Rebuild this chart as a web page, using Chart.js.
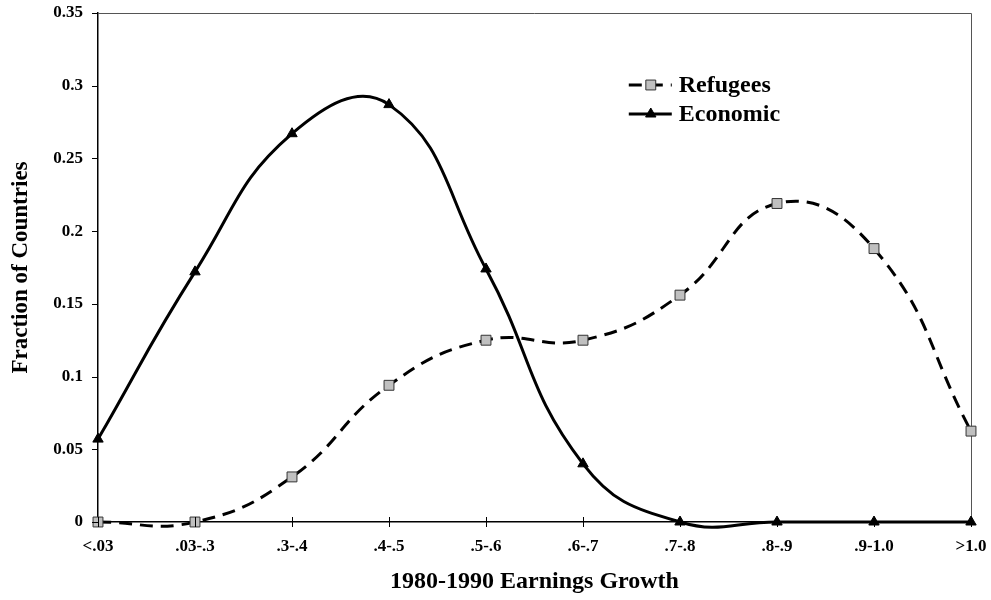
<!DOCTYPE html>
<html>
<head>
<meta charset="utf-8">
<script src="https://cdn.jsdelivr.net/npm/chart.js@4"></script>
<style>
  html, body { margin: 0; padding: 0; background: #fff; }
  #wrap { width: 991px; height: 600px; }
</style>
</head>
<body>
<div id="wrap"><canvas id="growthChart"></canvas></div>
<script>
const categories = ['<.03', '.03-.3', '.3-.4', '.4-.5', '.5-.6', '.6-.7', '.7-.8', '.8-.9', '.9-1.0', '>1.0'];
const refugees = [0, 0, 0.031, 0.094, 0.125, 0.125, 0.156, 0.219, 0.188, 0.0625];
const economic = [0.057, 0.172, 0.267, 0.287, 0.174, 0.04, 0, 0, 0, 0];
const yTicks = [0, 0.05, 0.1, 0.15, 0.2, 0.25, 0.3, 0.35];

const serif = '"Liberation Serif", "Times New Roman", serif';

// box round the plot + legend inside the plot
const framePlugin = {
    id: 'frame',
    beforeDatasetsDraw(chart) {
        const a = chart.chartArea, c = chart.ctx;
        c.save();
        c.strokeStyle = '#555';
        c.lineWidth = 1;
        c.beginPath();
        c.moveTo(a.left, a.top + 0.5);
        c.lineTo(a.right + 0.5, a.top + 0.5);
        c.lineTo(a.right + 0.5, a.bottom);
        c.stroke();
        c.restore();
    },
    afterDraw(chart) {
        const a = chart.chartArea, c = chart.ctx;
        const x0 = a.left + (a.right - a.left) * 0.608;
        let y = a.top + 72;
        chart.data.datasets.forEach(ds => {
            c.save();
            c.strokeStyle = ds.borderColor;
            c.lineWidth = ds.borderWidth;
            c.setLineDash(ds.borderDash || []);
            c.beginPath();
            c.moveTo(x0, y);
            c.lineTo(x0 + 43, y);
            c.stroke();
            c.setLineDash([]);
            c.fillStyle = ds.pointBackgroundColor;
            c.strokeStyle = ds.pointBorderColor;
            c.lineWidth = ds.pointBorderWidth;
            Chart.helpers.drawPoint(c, {
                pointStyle: ds.pointStyle,
                radius: ds.pointRadius,
                borderWidth: ds.pointBorderWidth,
                rotation: 0
            }, x0 + 22, y);
            c.fillStyle = '#000';
            c.font = 'bold 24px ' + serif;
            c.textBaseline = 'middle';
            c.fillText(ds.label, x0 + 50, y + 1);
            c.restore();
            y += 29;
        });
    }
};

new Chart(document.getElementById('growthChart'), {
    type: 'line',
    data: {
        labels: categories,
        datasets: [{
            label: 'Refugees',
            data: refugees,
            borderColor: '#000',
            borderWidth: 3,
            borderDash: [13, 8],
            tension: 0.45,
            pointStyle: 'rect',
            pointRadius: 7,
            pointBorderWidth: 1,
            pointBackgroundColor: '#c0c0c0',
            pointBorderColor: '#333',
            clip: false
        }, {
            label: 'Economic',
            data: economic,
            borderColor: '#000',
            borderWidth: 3,
            tension: 0.45,
            pointStyle: 'triangle',
            pointRadius: 6,
            pointBorderWidth: 1,
            pointBackgroundColor: '#000',
            pointBorderColor: '#000',
            clip: false
        }]
    },
    options: {
        responsive: true,
        maintainAspectRatio: false,
        animation: false,
        layout: { padding: { top: 13, right: 20 } },
        elements: { line: { capBezierPoints: false } },
        plugins: {
            legend: { display: false },
            tooltip: { enabled: false }
        },
        scales: {
            x: {
                offset: false,
                grid: { display: false, drawTicks: false },
                border: { color: '#000', width: 1.5 },
                ticks: {
                    color: '#000',
                    font: { family: serif, weight: 'bold', size: 17 },
                    maxRotation: 0,
                    autoSkip: false,
                    padding: 14
                },
                title: {
                    display: true,
                    text: '1980-1990 Earnings Growth',
                    color: '#000',
                    font: { family: serif, weight: 'bold', size: 24 },
                    padding: { top: 8 }
                },
                afterFit(s) {
                    s.height = 78;
                    s.paddingLeft = 0;
                    s.paddingRight = 0;
                }
            },
            y: {
                min: 0,
                max: 0.35,
                grid: { display: false, drawTicks: false },
                border: { color: '#000', width: 1.5 },
                afterBuildTicks(s) { s.ticks = yTicks.map(v => ({ value: v })); },
                ticks: {
                    color: '#000',
                    font: { family: serif, weight: 'bold', size: 17 },
                    padding: 15,
                    callback: v => String(+v.toFixed(2))
                },
                title: {
                    display: true,
                    text: 'Fraction of Countries',
                    color: '#000',
                    font: { family: serif, weight: 'bold', size: 23 },
                    padding: { top: 7, bottom: 0 }
                },
                afterFit(s) {
                    s.width = 98;
                    s.paddingTop = 0;
                    s.paddingBottom = 0;
                }
            }
        }
    },
    plugins: [framePlugin, {
        id: 'tickMarks',
        afterDraw(chart) {
            const c = chart.ctx, xs = chart.scales.x, ys = chart.scales.y;
            c.save();
            c.strokeStyle = '#000';
            c.lineWidth = 1;
            c.beginPath();
            xs.ticks.forEach((t, i) => {
                const px = Math.round(xs.getPixelForTick(i)) + 0.5;
                c.moveTo(px, xs.top - 5);
                c.lineTo(px, xs.top + 5);
            });
            ys.ticks.forEach((t, i) => {
                const py = Math.round(ys.getPixelForTick(i)) + 0.5;
                c.moveTo(ys.right - 6, py);
                c.lineTo(ys.right, py);
            });
            c.stroke();
            c.restore();
        }
    }]
});
</script>
</body>
</html>
